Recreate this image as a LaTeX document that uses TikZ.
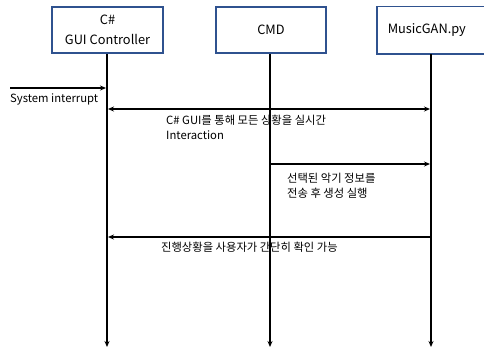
\documentclass[tikz,border=0pt]{standalone}
\usepackage{fontspec}
\setmainfont{Noto Sans CJK KR}
\usetikzlibrary{arrows.meta,positioning}
\definecolor{BoxLine}{RGB}{47, 82, 143}

\begin{document}
\begin{tikzpicture}[x=1pt, y=-1pt,
    actor/.style={draw=BoxLine, line width=1.5pt, fill=white, minimum height=46pt,
        align=center, font=\fontsize{12.8}{20}\selectfont, inner sep=0pt},
    life/.style={line width=1.6pt, -{Stealth[length=6pt, width=5pt]}},
    msg/.style={line width=1.6pt, -{Stealth[length=6pt, width=5pt]}},
    note/.style={font=\fontsize{11.3}{15}\selectfont, align=left, anchor=north west, inner sep=0pt}]
    %%Background
    \useasboundingbox (0,0) rectangle (484,349);

    %% Actors
    \node[actor, minimum width=111pt] (gui) at (107.5,30) {C\#\\GUI Controller};
    \node[actor, minimum width=110pt] (cmd) at (271,30) {CMD};
    \node[actor, draw=none, anchor=west, text width=120pt, inner xsep=10pt, align=left] (gan) at (377,30) {MusicGAN.py};
    % box runs off the right edge
    \draw[draw=BoxLine, line width=1.5pt] (gan.north east) to (gan.north west) to (gan.south west) to (gan.south east);

    %% Lifelines
    \coordinate (guiend) at (107,347);
    \coordinate (cmdend) at (270,347);
    \coordinate (ganend) at (431,347);
    \draw[life] (gui.south -| guiend) to (guiend);
    \draw[life] (cmd.south -| cmdend) to (cmdend);
    \draw[life] (gan.south -| ganend) to (ganend);

    %% System interrupt
    \coordinate (start) at (10,88);
    \coordinate (guiA) at (106,88);
    \draw[msg] (start) to (guiA);
    \node[note] (sys) at (10,93.5) {System interrupt};

    %% Interaction
    \coordinate (guiB) at (108,109);
    \coordinate (ganB) at (430,109);
    \draw[msg, {Stealth[length=6pt, width=5pt]}-{Stealth[length=6pt, width=5pt]}] (guiB) to (ganB);
    \node[note] (inter) at (166,114.5) {C\# GUI를 통해 모든 상황을 실시간\\Interaction};

    %% CMD -> MusicGAN
    \coordinate (cmdC) at (271,164);
    \coordinate (ganC) at (430,164);
    \draw[msg] (cmdC) to (ganC);
    \node[note] (send) at (287,172.5) {선택된 악기 정보를\\전송 후 생성 실행};

    %% MusicGAN -> GUI
    \coordinate (ganD) at (431,237);
    \coordinate (guiD) at (108,237);
    \draw[msg] (ganD) to (guiD);
    \node[note] (prog) at (161,241.5) {진행상황을 사용자가 간단히 확인 가능};
\end{tikzpicture}
\end{document}
